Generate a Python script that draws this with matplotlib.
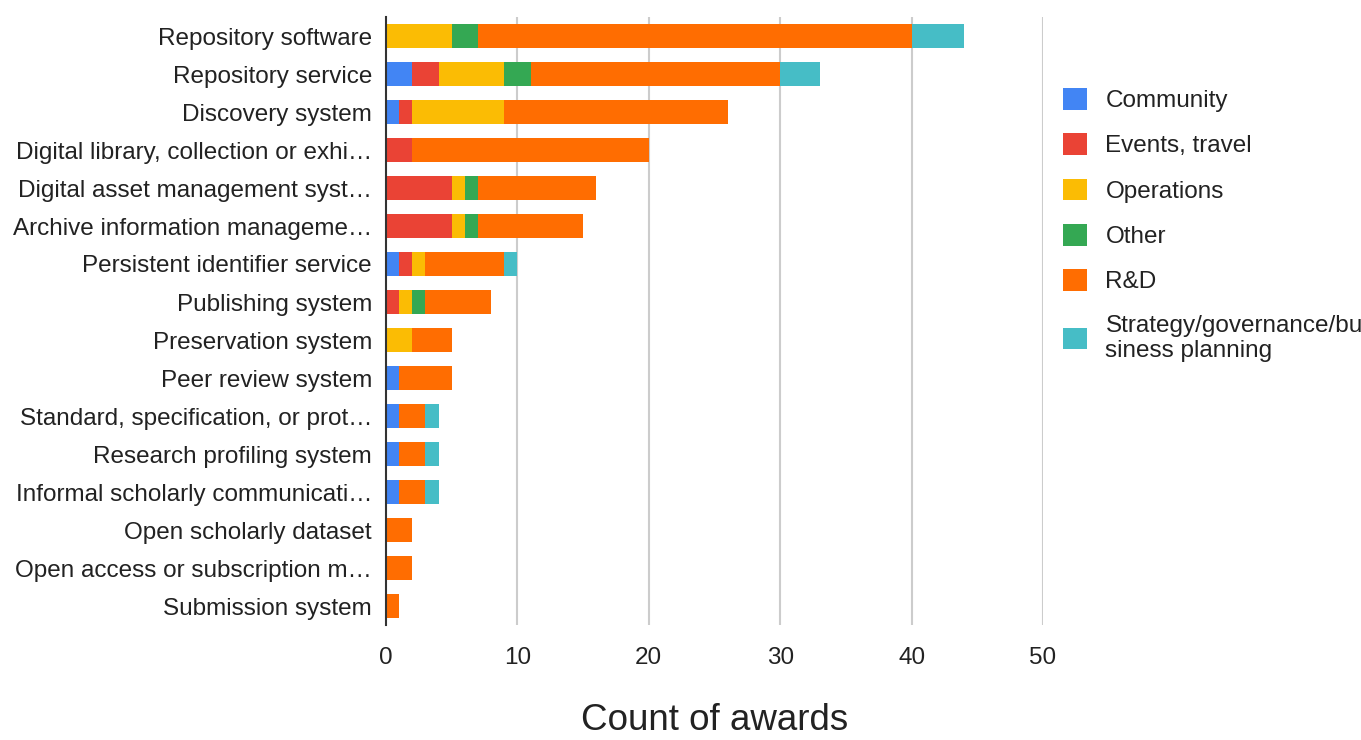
import matplotlib
matplotlib.use("Agg")
import matplotlib.pyplot as plt
from matplotlib.patches import Patch
import numpy as np

plt.rcParams["font.family"] = ["Liberation Sans", "DejaVu Sans"]

# categories top to bottom
categories = [
    "Repository software",
    "Repository service",
    "Discovery system",
    "Digital library, collection or exhi\u2026",
    "Digital asset management syst\u2026",
    "Archive information manageme\u2026",
    "Persistent identifier service",
    "Publishing system",
    "Preservation system",
    "Peer review system",
    "Standard, specification, or prot\u2026",
    "Research profiling system",
    "Informal scholarly communicati\u2026",
    "Open scholarly dataset",
    "Open access or subscription m\u2026",
    "Submission system",
]

community  = [0, 2, 1, 0, 0, 0, 1, 0, 0, 1, 1, 1, 1, 0, 0, 0]
events     = [0, 2, 1, 2, 5, 5, 1, 1, 0, 0, 0, 0, 0, 0, 0, 0]
operations = [5, 5, 7, 0, 1, 1, 1, 1, 2, 0, 0, 0, 0, 0, 0, 0]
other      = [2, 2, 0, 0, 1, 1, 0, 1, 0, 0, 0, 0, 0, 0, 0, 0]
rnd        = [33, 19, 17, 18, 9, 8, 6, 5, 3, 4, 2, 2, 2, 2, 2, 1]
strategy   = [4, 3, 0, 0, 0, 0, 1, 0, 0, 0, 1, 1, 1, 0, 0, 0]

series_names = ["Community", "Events, travel", "Operations", "Other", "R&D",
                "Strategy/governance/bu\nsiness planning"]
series = [community, events, operations, other, rnd, strategy]
colors = ["#4285F4", "#EA4335", "#FBBC04", "#34A853", "#FF6D01", "#46BDC6"]

fig = plt.figure(figsize=(13.61, 7.40), dpi=100)
ax = fig.add_axes([386 / 1361, 1 - 625 / 740, 657 / 1361, 608 / 740])

y = np.arange(len(categories))
left = np.zeros(len(categories))
for vals, col in zip(series, colors):
    vals = np.array(vals, dtype=float)
    ax.barh(y, vals, left=left, height=0.64, color=col, linewidth=0, zorder=3)
    left += vals

ax.set_ylim(len(categories) - 0.5, -0.5)
ax.set_xlim(0, 50)
ax.set_yticks(y)
ax.set_yticklabels(categories, fontsize=17.5, color="#222222")
ax.set_xticks(range(0, 51, 10))
ax.tick_params(axis="x", labelsize=17.5, colors="#222222", length=0, pad=16)
ax.tick_params(axis="y", length=0, pad=10)

for s in ["top", "right", "bottom"]:
    ax.spines[s].set_visible(False)
ax.spines["left"].set_color("#333333")
ax.spines["left"].set_linewidth(1.5)
ax.spines["left"].set_zorder(4)

for gx in range(10, 51, 10):
    ax.axvline(gx, color="#cccccc", linewidth=1.5, zorder=1)

ax.set_xlabel("Count of awards", fontsize=26.5, color="#222222", labelpad=24)

handles = [Patch(facecolor=c, edgecolor="none") for c in colors]
fig.legend(handles, series_names, loc="upper left",
           bbox_to_anchor=(1041 / 1361, 1 - 66 / 740), frameon=False,
           fontsize=17.5, handlelength=1.0, handleheight=1.0,
           handletextpad=0.75, labelspacing=0.87, labelcolor="#222222")

fig.savefig("out.png", dpi=100)
